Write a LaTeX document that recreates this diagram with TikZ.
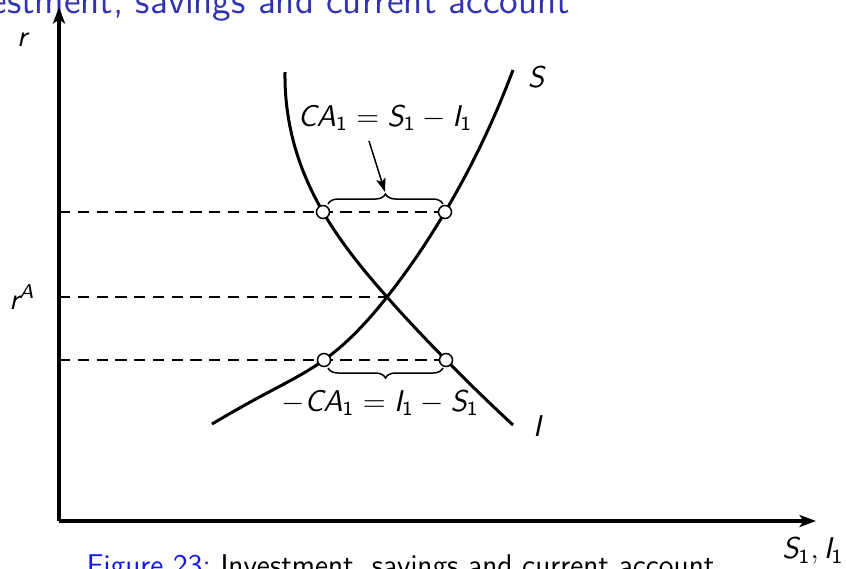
\documentclass[tikz,border=0pt]{standalone}
\usepackage{amsmath}
\usepackage{fontspec}
\renewcommand{\familydefault}{\sfdefault}
\usetikzlibrary{arrows.meta,decorations.pathreplacing,hobby}
\definecolor{titleblue}{RGB}{51,51,178}
\definecolor{capblue}{RGB}{20,20,235}
\newcommand{\vv}[1]{\textit{#1}}
\tikzset{
  axis/.style={line width=1.5pt,-{Stealth[length=6.6pt,width=4.8pt,inset=1.6pt]}},
  curve/.style={line width=1.2pt},
  guide/.style={line width=0.7pt,dash pattern=on 4.5pt off 3pt},
  dot/.style={circle,draw,fill=white,line width=0.6pt,inner sep=0pt,minimum size=5.2pt},
  lbl/.style={inner sep=0pt,font=\fontsize{12}{14}\selectfont},
  bracedec/.style={line width=0.6pt,decorate,decoration={brace,amplitude=4pt}}
}
\begin{document}
\begin{tikzpicture}[x=0.4pt,y=-0.4pt]
\useasboundingbox (0,0) rectangle (846,568);
% title and caption (cut off by the frame)
\node[anchor=base west,inner sep=0pt,text=titleblue,font=\fontsize{15.2}{18}\selectfont] (title) at (326,13) {\llap{Investment, savings and }current account};
\node[anchor=base west,inner sep=0pt,font=\fontsize{12}{14}\selectfont] (cap) at (220,575) {\llap{\textcolor{capblue}{Figure 23:}\ }Investment, savings and current account};
% coordinates
\coordinate (O) at (59,521);
\coordinate (ytop) at (59,7);
\coordinate (xend) at (816,521);
\coordinate (yh) at (59,212);
\coordinate (ym) at (59,297);
\coordinate (yl) at (59,360);
\coordinate (ul) at (323,212);
\coordinate (ur) at (445,212);
\coordinate (ll) at (324,360);
\coordinate (lr) at (446,360);
\coordinate (X) at (387,297);
% guides
\draw[guide] (yh) -- (ur);
\draw[guide] (ym) -- (X);
\draw[guide] (yl) -- (lr);
% axes
\draw[axis] (O) -- (ytop);
\draw[axis] (O) -- (xend);
% curves
\coordinate (s0) at (212,424);
\coordinate (s1) at (267,393);
\coordinate (s5) at (513,70);
\coordinate (i0) at (285,72);
\coordinate (i2) at (298,157);
\coordinate (i5) at (513,425);
\draw[curve,use Hobby shortcut] (s0) .. (s1) .. (ll) .. (X) .. (ur) .. (s5);
\draw[curve,use Hobby shortcut] (i0) .. (i2) .. (ul) .. (X) .. (lr) .. (i5);
% dots
\node[dot] (d1) at (ul) {};
\node[dot] (d2) at (ur) {};
\node[dot] (d3) at (ll) {};
\node[dot] (d4) at (lr) {};
% braces
\draw[bracedec] (328,204) -- (443,204);
\coordinate (btip) at (385,192);
\draw[bracedec] (443,368) -- (328,368);
% labels
\node[lbl] (ca) at (385,118) {$\vv{CA}_{\text{1}} = \vv{S}_{\text{1}} - \vv{I}_{\text{1}}$};
\node[lbl] (nca) at (380,403) {$-\vv{CA}_{\text{1}} = \vv{I}_{\text{1}} - \vv{S}_{\text{1}}$};
\coordinate (astart) at (369,141);
\draw[line width=0.6pt,-{Stealth[length=5.5pt,width=3.8pt,inset=1.2pt]}] (astart) -- (btip);
\node[lbl] (Slab) at (536,77) {$\vv{S}$};
\node[lbl] (Ilab) at (537,426) {$\vv{I}$};
\node[lbl] (rlab) at (22,40) {$\vv{r}$};
\node[lbl] (rAlab) at (22,297) {$\vv{r}^{\vv{A}}$};
\node[lbl] (xlab) at (813,551) {$\vv{S}_{\text{1}}, \vv{I}_{\text{1}}$};
\end{tikzpicture}
\end{document}
